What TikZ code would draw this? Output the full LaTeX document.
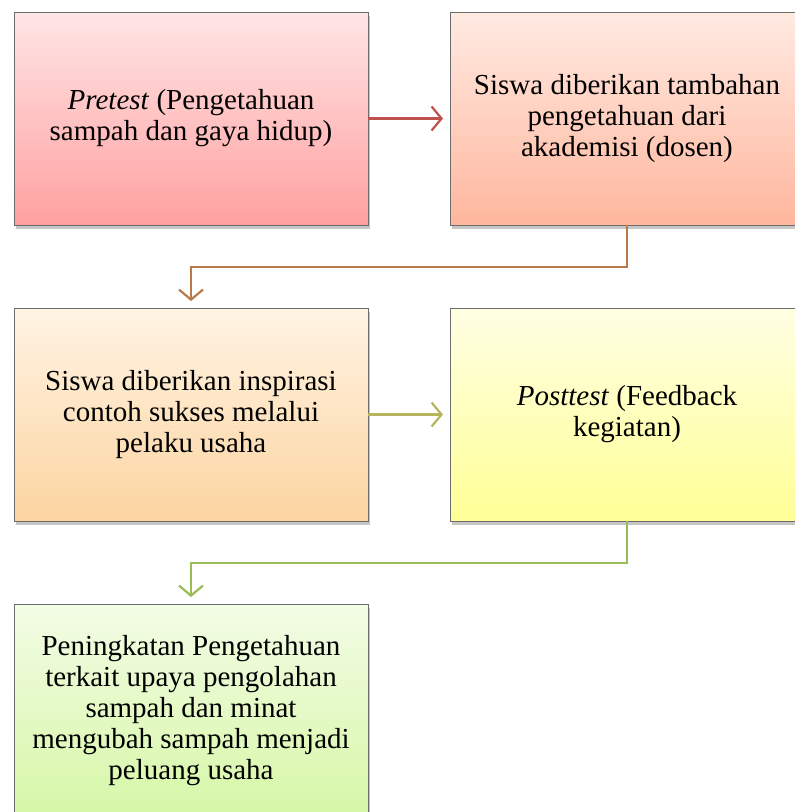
\documentclass[tikz,border=0pt]{standalone}
\usepackage{fontspec}
\setmainfont{Liberation Serif}
\usepackage {tikz}
\usetikzlibrary{arrows.meta, positioning, shadows}

\definecolor{arrred}{RGB}{192,80,77}
\definecolor{arrbrown}{RGB}{185,122,75}
\definecolor{arrolive}{RGB}{182,180,92}
\definecolor{arrgreen}{RGB}{155,187,89}

\begin{document}
\begin{tikzpicture}[shorten >=7pt,
conn/.style={draw, line width=2.2pt, -{Straight Barb[length=10pt,width=24pt,line width=2.2pt]}},
box/.style={draw=gray!85!black, line width=0.8pt, minimum width=354pt, minimum height=213pt,
  outer sep=0pt, align=center, font=\fontsize{29}{31}\selectfont,
  drop shadow={shadow xshift=1.5pt, shadow yshift=-3.5pt, opacity=0.45, fill=gray}}]

\useasboundingbox (0,0) rectangle (795pt,-812pt);
\clip (0,0) rectangle (795pt,-812pt);

\node [box, top color=red!10!white, bottom color={rgb,255:red,255;green,160;blue,160}] (pretest) at (191pt,-118.5pt) {\textit{Pretest} (Pengetahuan\\sampah dan gaya hidup)};
\node [box, top color={rgb,255:red,255;green,234;blue,226}, bottom color={rgb,255:red,255;green,183;blue,158}] (tambahan) [right=82pt of pretest] {Siswa diberikan tambahan\\pengetahuan dari\\akademisi (dosen)};
\path (pretest) edge [conn, arrred] (tambahan);

\node [box, top color={rgb,255:red,255;green,244;blue,228}, bottom color={rgb,255:red,252;green,212;blue,160}] (inspirasi) [below=83pt of pretest] {Siswa diberikan inspirasi\\contoh sukses melalui\\pelaku usaha};
\draw [conn, arrbrown] (tambahan.south) -- ++(0,-42pt) -| (inspirasi.north);

\node [box, top color={rgb,255:red,255;green,255;blue,228}, bottom color={rgb,255:red,255;green,255;blue,150}] (posttest) [right=82pt of inspirasi] {\textit{Posttest} (Feedback\\kegiatan)};
\path (inspirasi) edge [conn, arrolive] (posttest);

\node [box, top color={rgb,255:red,243;green,252;blue,230}, bottom color={rgb,255:red,214;green,247;blue,166}] (peningkatan) [below=83pt of inspirasi] {Peningkatan Pengetahuan\\terkait upaya pengolahan\\sampah dan minat\\mengubah sampah menjadi\\peluang usaha};
\draw [conn, arrgreen] (posttest.south) -- ++(0,-42pt) -| (peningkatan.north);

\end{tikzpicture}
\end{document}
